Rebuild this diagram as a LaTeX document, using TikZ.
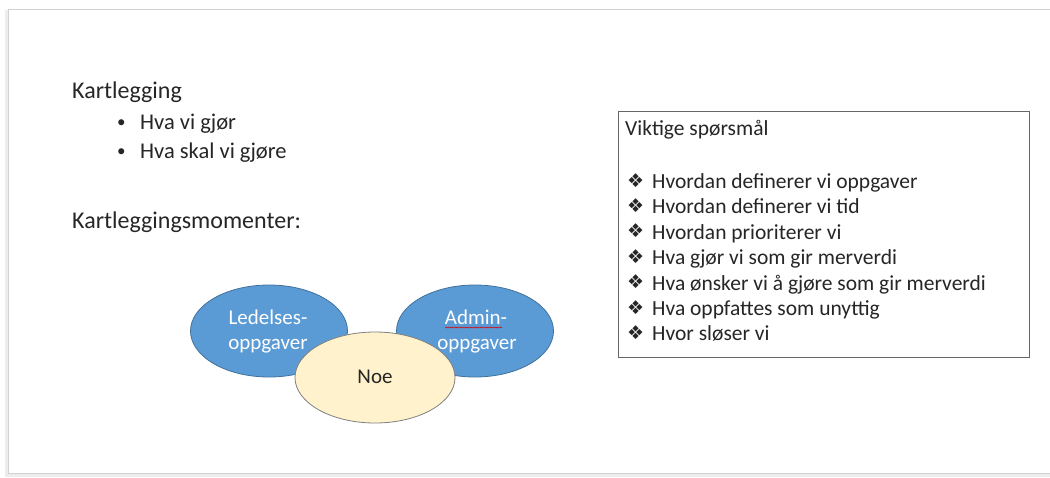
\documentclass[tikz,border=0pt]{standalone}
\usepackage{fontspec}
\setmainfont{Carlito}
\newfontfamily\symfont{DejaVu Sans}
\usetikzlibrary{decorations.pathmorphing,shapes.geometric}
\definecolor{blueF}{HTML}{5B9BD5}
\definecolor{blueD}{HTML}{41719C}
\definecolor{yelF}{HTML}{FFF2CC}
\definecolor{yelD}{HTML}{7F7F7F}
\definecolor{txtC}{HTML}{262626}
\tikzset{
  txt/.style={anchor=base west, inner sep=0pt, text=txtC, font=\fontsize{24}{28}\selectfont},
  bul/.style={anchor=base west, inner sep=0pt, text=txtC, font=\fontsize{22.5}{26}\selectfont},
  bdot/.style={anchor=base west, inner sep=0pt, text=txtC, font=\fontsize{17}{20}\selectfont},
  itm/.style={anchor=base west, inner sep=0pt, text=txtC, font=\fontsize{21.5}{25}\selectfont},
  dia/.style={anchor=base west, inner sep=0pt, text=txtC, font=\symfont\fontsize{19}{22}\selectfont},
  blueell/.style={ellipse, draw=blueD, fill=blueF, line width=0.8pt, minimum width=157pt, minimum height=92pt, inner sep=0pt},
  yelell/.style={ellipse, draw=yelD, fill=yelF, line width=0.8pt, minimum width=160pt, minimum height=91pt, inner sep=0pt},
  elltxt/.style={anchor=base, font=\fontsize{21}{25}\selectfont, inner sep=0pt}
}
\begin{document}
\begin{tikzpicture}[x=1pt,y=-1pt]
\useasboundingbox (0,0) rectangle (1050,477);
\fill[white] (0,0) rectangle (1050,477);
% slide frame with soft shadow
\draw[black!7, line width=3pt] (6,10) -- (6,475) -- (1050,475);
\draw[black!18, line width=0.8pt] (1050,9) -- (8,9) -- (8,473) -- (1050,473);
% left texts
\node[txt] (k1) at (72,98) {Kartlegging};
\node[bdot] (b1) at (117,127) {•};
\node[bul] (t1) at (140,129) {Hva vi gjør};
\node[bdot] (b2) at (117,156) {•};
\node[bul] (t2) at (140,158) {Hva skal vi gjøre};
\node[txt] (k2) at (72,228) {Kartleggingsmomenter:};
% ellipses
\node[blueell] (led) at (269,331) {};
\node[blueell] (adm) at (475,331) {};
\node[yelell] (noe) at (375,377.5) {};
\node[elltxt, text=white] (ledt1) at (268,324) {Ledelses-};
\node[elltxt, text=white] (ledt2) at (268,349) {oppgaver};
\node[elltxt, text=white] (admt1) at (476,324) {Admin-};
\node[elltxt, text=white] (admt2) at (477,349) {oppgaver};
\draw[red!85!black, line width=0.5pt, decorate, decoration={snake, amplitude=0.6pt, segment length=2.5pt}] (445,327.5) -- (502,327.5);
\node[elltxt, text=txtC] (noet) at (375,383) {Noe};
% box
\node[draw=black!60, line width=0.8pt, minimum width=411pt, minimum height=246pt, anchor=north west, inner sep=0pt] (box) at (617.5,110.5) {};
\node[itm] (h) at (625,135) {Viktige spørsmål};
\foreach \i/\t in {0/Hvordan definerer vi oppgaver,1/Hvordan definerer vi tid,2/Hvordan prioriterer vi,3/Hva gjør vi som gir merverdi,4/Hva ønsker vi å gjøre som gir merverdi,5/Hva oppfattes som unyttig,6/Hvor sløser vi}{
  \node[dia] (d\i) at (627,187+25.4*\i) {❖};
  \node[itm] (q\i) at (652,188.5+25.4*\i) {\t};
}
\end{tikzpicture}
\end{document}
